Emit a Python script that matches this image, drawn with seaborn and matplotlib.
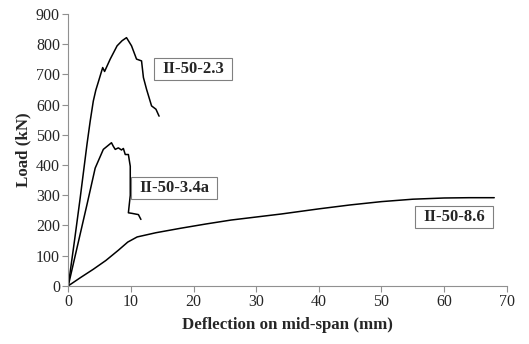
import pandas as pd
import seaborn as sns
import matplotlib.pyplot as plt

# II-50-2.3
defl_23 = [0, 1.0, 1.9, 3.0, 3.5, 4.0, 4.4, 4.8, 5.5, 5.8, 6.7, 7.8, 8.6, 9.3, 10.1, 10.9, 11.7, 12.0, 12.5, 13.3, 14.0, 14.5]
load_23 = [0, 150, 290, 470, 545, 612, 648, 675, 723, 710, 751, 795, 812, 822, 795, 751, 745, 690, 651, 596, 585, 562]

# II-50-3.4a
defl_34 = [0, 1.0, 2.0, 3.0, 4.3, 5.6, 6.9, 7.2, 7.5, 8.0, 8.5, 8.8, 9.1, 9.6, 9.9, 9.9, 9.6, 10.2, 11.2, 11.6]
load_34 = [0, 90, 180, 270, 390, 452, 474, 462, 452, 457, 450, 455, 435, 435, 396, 300, 242, 240, 236, 220]

# II-50-8.6
defl_86 = [0, 2, 4, 6, 8, 9.5, 11, 14, 18, 22, 26, 30, 34, 40, 45, 50, 55, 60, 64, 68]
load_86 = [0, 28, 55, 84, 118, 145, 162, 176, 191, 205, 218, 228, 238, 255, 268, 279, 287, 291, 292, 292]

names = ["II-50-2.3", "II-50-3.4a", "II-50-8.6"]
label_x = [19.9, 16.9, 61.6]
label_y = [718, 324, 227]

sns.set_style("white")
plt.rcParams["font.family"] = ["Liberation Serif", "DejaVu Serif"]

fig = plt.figure(figsize=(5.29, 3.44), dpi=100)
ax = fig.add_axes([0.129, 0.169, 0.829, 0.790])

for d, l in [(defl_23, load_23), (defl_34, load_34), (defl_86, load_86)]:
    sns.lineplot(x=d, y=l, sort=False, estimator=None, color="black", lw=1.1, ax=ax)

for name, tx, ty in zip(names, label_x, label_y):
    ax.text(tx, ty, name, ha="center", va="center", fontsize=12, fontweight="bold",
            bbox=dict(boxstyle="square,pad=0.5", mutation_aspect=0.35,
                      fc="white", ec="#808080", lw=0.8))

ax.set_xlim(0, 70)
ax.set_ylim(0, 900)
ax.set_xticks(range(0, 71, 10))
ax.set_yticks(range(0, 901, 100))
ax.set_xlabel("Deflection on mid-span (mm)", fontsize=12.2, fontweight="bold", labelpad=5)
ax.set_ylabel("Load (kN)", fontsize=12.2, fontweight="bold", labelpad=3)

sns.despine(ax=ax)
for s in ["left", "bottom"]:
    ax.spines[s].set_color("#909090")
    ax.spines[s].set_linewidth(0.8)
ax.tick_params(axis="both", direction="out", length=4, width=0.8, color="#909090",
               labelsize=11.5, pad=2, left=True, bottom=True)

fig.savefig("out.png", dpi=100)
